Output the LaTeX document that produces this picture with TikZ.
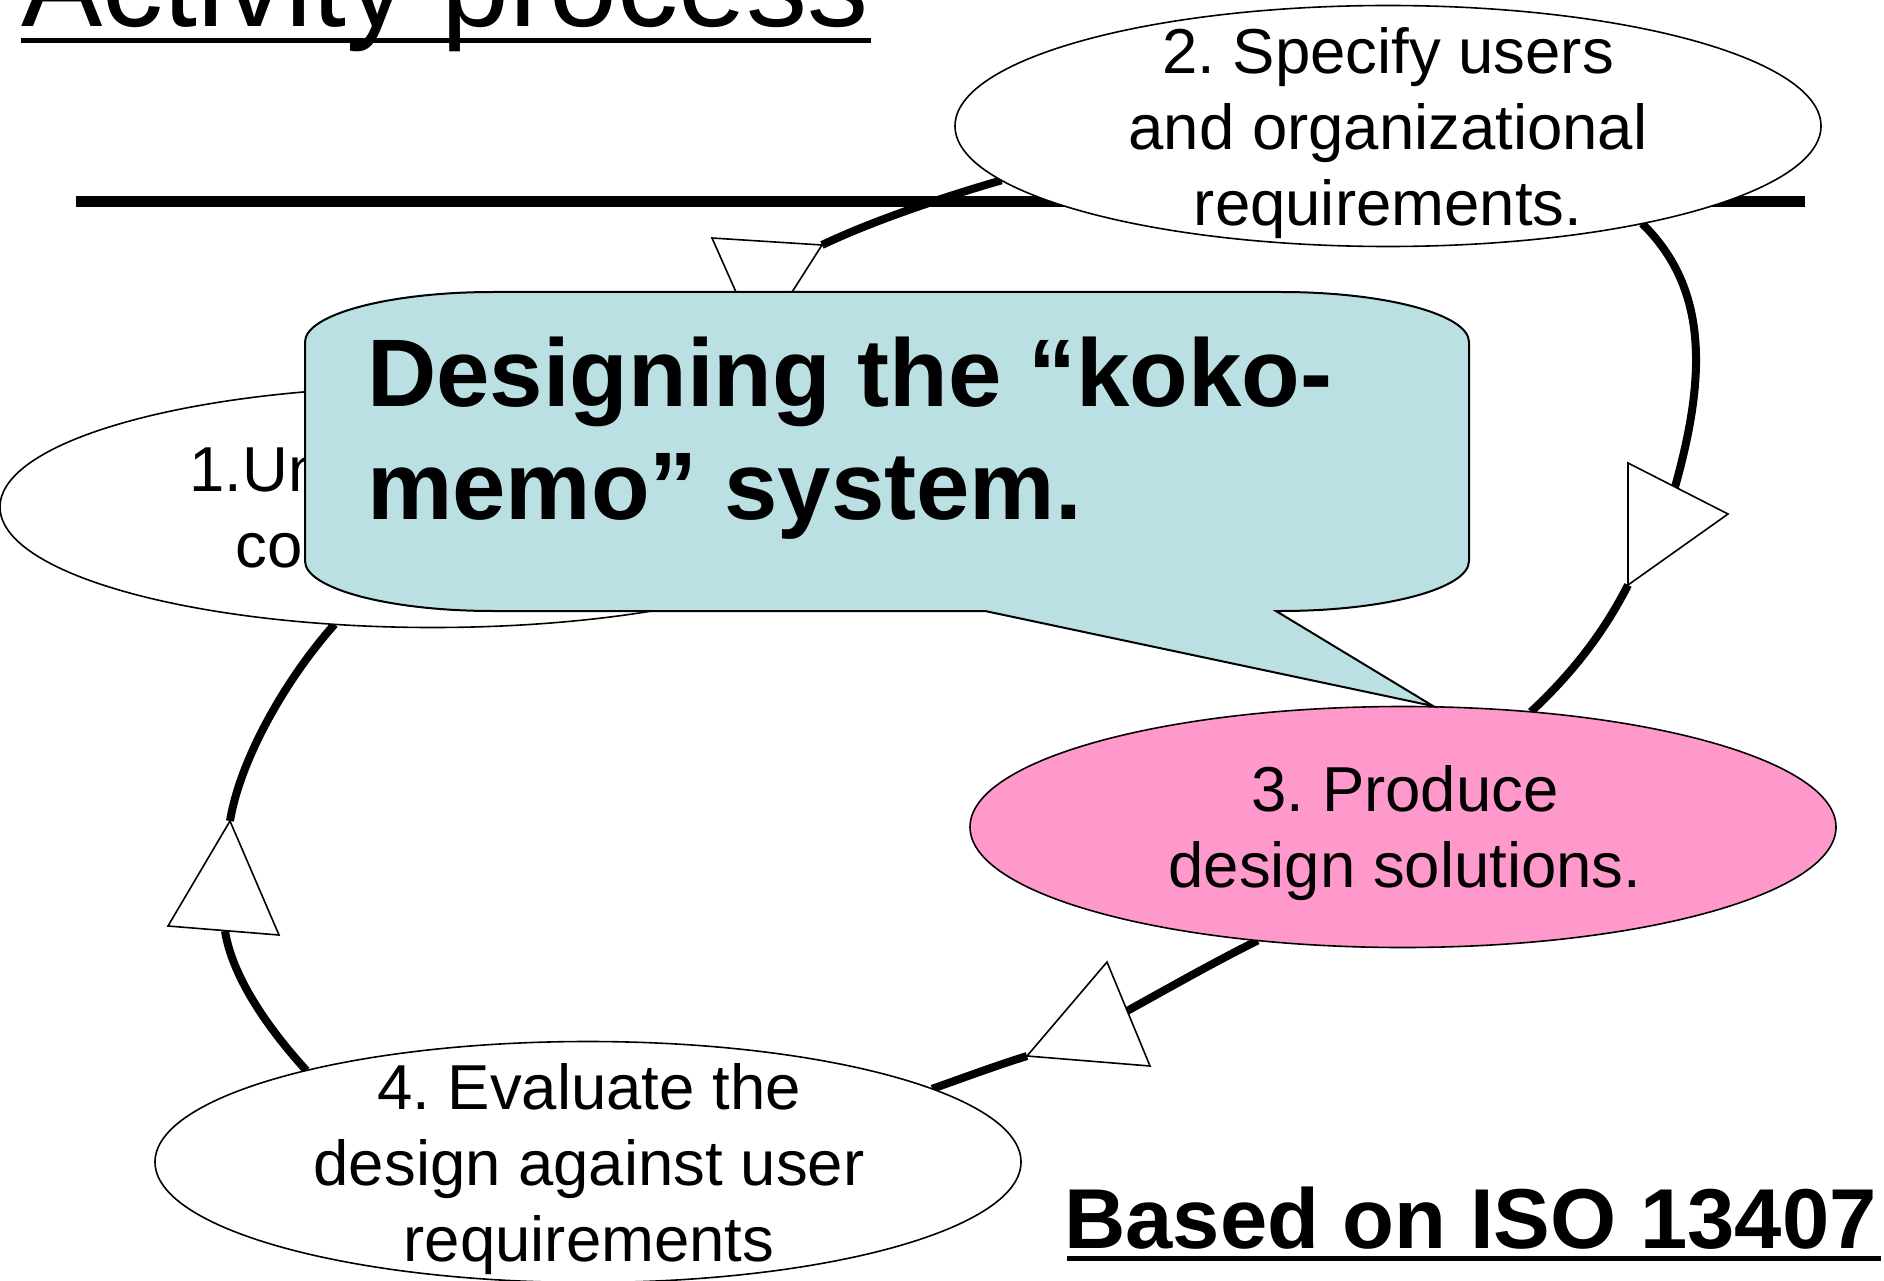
\documentclass[tikz,border=0pt]{standalone}
\usepackage{fontspec}
\setmainfont{Liberation Sans}
\usetikzlibrary{shapes.geometric}
\pgfdeclarelayer{bg}
\pgfsetlayers{bg,main}
\frenchspacing
\definecolor{calloutblue}{RGB}{186,224,227}
\definecolor{stagepink}{RGB}{255,153,204}
\tikzset{
  stage/.style={ellipse, draw=black, line width=1.6pt, fill=white,
    minimum width=866pt, minimum height=241pt, inner sep=0pt, outer sep=0pt},
  stagetext/.style={align=center, inner sep=0pt, font=\fontsize{63.5pt}{76pt}\selectfont},
  flow/.style={line width=8pt},
  headtri/.style={draw=black, fill=white, line width=1.6pt, line join=miter},
  rulebar/.style={line width=5pt},
}
\begin{document}
\begin{tikzpicture}[x=1pt,y=-1pt]
\useasboundingbox (0,0) rectangle (1884,1281);
\clip (0,0) rectangle (1884,1281);

% title
\node[anchor=base west, inner sep=0pt, font=\fontsize{122pt}{140pt}\selectfont] (title) at (21,27) {Activity process};
\draw[rulebar] (21,41) -- (871,41);

% stages
\node[stage] (e1) at (433,507) {};
\node[stagetext] (e1t) at (433,507) {1.Understand the\\context of use};
\node[stage] (e2) at (1388,126) {};
\node[stagetext] (e2t) at (1388,133) {2. Specify users\\and organizational\\requirements.};
\node[stage, fill=stagepink] (e3) at (1403,827) {};
\node[stagetext] (e3t) at (1405,833) {3. Produce\\design solutions.};
\node[stage] (e4) at (588,1162) {};
\node[stagetext] (e4t) at (589,1169) {4. Evaluate the\\design against user\\requirements};

% callout
\path[draw=black, line width=2pt, fill=calloutblue]
  (493,292) -- (1281,292)
  arc[start angle=90, end angle=0, x radius=188pt, y radius=50pt]
  -- (1469,561)
  arc[start angle=0, end angle=-90, x radius=188pt, y radius=50pt]
  -- (1276,611) -- (1433,706) -- (985,611) -- (493,611)
  arc[start angle=270, end angle=180, x radius=188pt, y radius=50pt]
  -- (305,342)
  arc[start angle=180, end angle=90, x radius=188pt, y radius=50pt]
  -- cycle;
\node[anchor=north west, inner sep=0pt, align=left,
  font=\fontsize{96pt}{113pt}\selectfont\bfseries] (callt) at (367,337)
  {Designing the “koko-\\memo” system.};

% reference note
\node[anchor=base west, inner sep=0pt, font=\fontsize{85pt}{100pt}\selectfont\bfseries] (iso) at (1064,1248) {Based on ISO 13407};
\draw[rulebar] (1067,1258.5) -- (1881,1258.5);

\begin{pgfonlayer}{bg}
\draw[line width=11pt] (76,202) -- (1805,202);
% A: 2 -> 1
\coordinate (a1) at (712,238);
\coordinate (a2) at (822,245);
\coordinate (a3) at (759,344);
\draw[flow] (e2.188) .. controls (940,198) and (870,222) .. (a2);
\filldraw[headtri] (a1) -- (a2) -- (a3) -- cycle;
% B: 2 -> 3
\coordinate (b1) at (1628,463);
\coordinate (b2) at (1728,514);
\coordinate (b3) at (1628,585);
\coordinate (bin) at (1675,487);
\draw[flow] (e2.339) .. controls (1710,290) and (1705,380) .. (bin);
\draw[flow] (b3) .. controls (1600,640) and (1565,680) .. (e3.42);
\filldraw[headtri] (b1) -- (b2) -- (b3) -- cycle;
% C: 3 -> 4
\coordinate (c1) at (1107,962);
\coordinate (c2) at (1150,1066);
\coordinate (c3) at (1027,1056);
\coordinate (cin) at (1127,1011);
\draw[flow] (e3.218) .. controls (1218,960) and (1165,990) .. (cin);
\draw[flow] (c3) .. controls (995,1066) and (960,1079) .. (e4.12);
\filldraw[headtri] (c1) -- (c2) -- (c3) -- cycle;
% D: 4 -> 1
\coordinate (d1) at (230,821);
\coordinate (d2) at (279,935);
\coordinate (d3) at (168,926);
\coordinate (din) at (225,931);
\draw[flow] (e4.162) .. controls (265,1025) and (232,975) .. (din);
\draw[flow] (d1) .. controls (240,760) and (285,680) .. (e1.230);
\filldraw[headtri] (d1) -- (d2) -- (d3) -- cycle;
\end{pgfonlayer}
\end{tikzpicture}
\end{document}
